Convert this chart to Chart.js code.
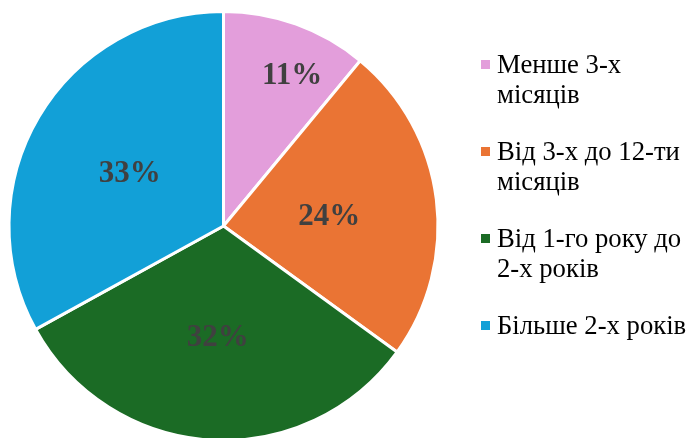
<!DOCTYPE html>
<html>
<head>
<meta charset="utf-8">
<script src="https://cdn.jsdelivr.net/npm/chart.js@4"></script>
<style>
  html, body { margin: 0; padding: 0; background: #fff; }
  #wrap { width: 690px; height: 438px; }
</style>
</head>
<body>
<div id="wrap"><canvas id="myChart" width="690" height="438"></canvas></div>
<script>
// data
const categories = ['Менше 3-х місяців', 'Від 3-х до 12-ти місяців', 'Від 1-го року до 2-х років', 'Більше 2-х років']
const shares = [11, 24, 32, 33]
const sliceColors = ['#E39EDB', '#EA7434', '#1B6B25', '#12A0D7']

// labels sit in the middle of each slice, the small one further out
const labelRadius = [0.77, 0.5, 0.5, 0.5]
const labelNudge = [[13, 4], [0, 4], [1, 6], [-2, 2]]

const serif = '"Liberation Serif", "Times New Roman", Times, serif'

const sliceLabels = {
    id: 'sliceLabels',
    afterDatasetsDraw(chart) {
        const ctx = chart.ctx
        const meta = chart.getDatasetMeta(0)
        ctx.save()
        ctx.font = 'bold 31px ' + serif
        ctx.fillStyle = '#404040'
        ctx.textAlign = 'center'
        ctx.textBaseline = 'middle'
        meta.data.forEach((arc, i) => {
            const mid = (arc.startAngle + arc.endAngle) / 2
            const r = 213 * labelRadius[i]
            const x = arc.x + Math.cos(mid) * r + labelNudge[i][0]
            const y = arc.y + Math.sin(mid) * r + labelNudge[i][1]
            ctx.fillText(shares[i] + '%', x, y)
        })
        ctx.restore()
    }
}

// legend on the right, wrapped like the original
const sideLegend = {
    id: 'sideLegend',
    afterDraw(chart) {
        const ctx = chart.ctx
        ctx.save()
        ctx.font = '26.7px ' + serif
        ctx.textBaseline = 'middle'
        const maxW = 194
        let y = 66
        categories.forEach((label, i) => {
            const words = label.split(' ')
            const lines = []
            let cur = ''
            words.forEach(w => {
                const t = cur ? cur + ' ' + w : w
                if (ctx.measureText(t).width > maxW && cur) {
                    lines.push(cur)
                    cur = w
                } else {
                    cur = t
                }
            })
            lines.push(cur)
            ctx.fillStyle = sliceColors[i]
            ctx.fillRect(481, y - 6, 9, 9)
            ctx.fillStyle = '#000'
            lines.forEach((ln, j) => {
                ctx.fillText(ln, 497, y + j * 30)
            })
            y += (lines.length - 1) * 30 + 57
        })
        ctx.restore()
    }
}

function draw() {
    let myChart = document.getElementById('myChart').getContext('2d')
    new Chart(myChart, {
        type: 'pie',
        data: {
            labels: categories,
            datasets: [{
                data: shares,
                backgroundColor: sliceColors,
                borderColor: '#ffffff',
                borderWidth: 3,
                hoverOffset: 0,
                radius: 214.5
            }]
        },
        options: {
            responsive: false,
            animation: false,
            events: [],
            layout: {
                padding: { left: 8, top: 14, right: 251, bottom: 0 }
            },
            plugins: {
                legend: { display: false },
                tooltip: { enabled: false }
            }
        },
        plugins: [sliceLabels, sideLegend]
    })
}

Promise.all([
    document.fonts.load('26px "Liberation Serif"', 'Менше'),
    document.fonts.load('bold 31px "Liberation Serif"', '11%')
]).then(draw, draw)
</script>
</body>
</html>
